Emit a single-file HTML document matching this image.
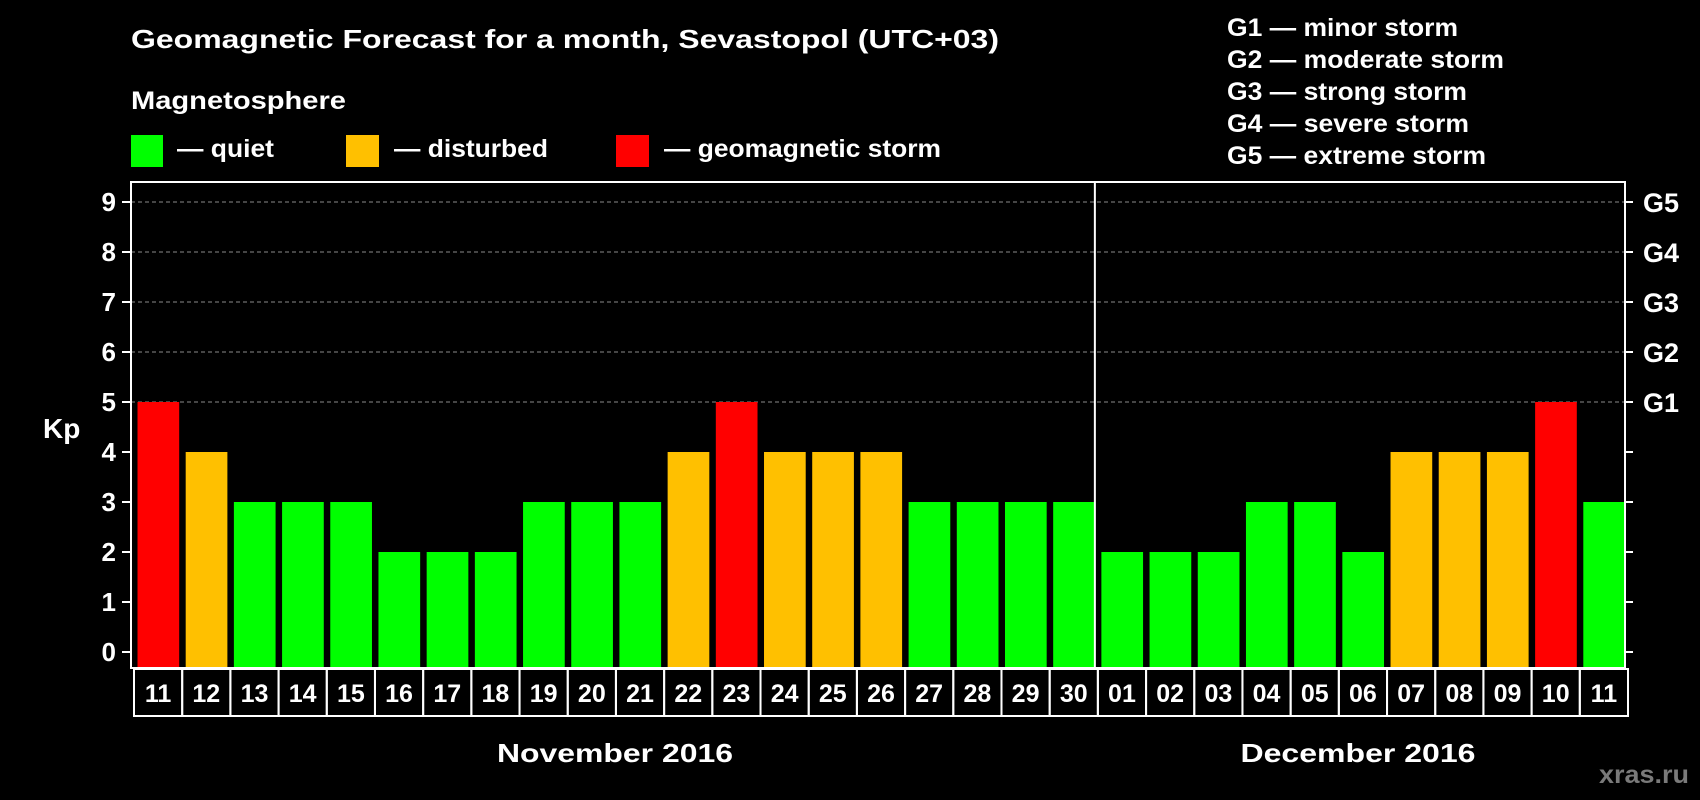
<!DOCTYPE html>
<html><head><meta charset="utf-8"><style>
html,body{margin:0;padding:0;background:#000;}
svg{display:block;}
text{font-family:"Liberation Sans",Arial,sans-serif;font-weight:bold;fill:#fff;}
</style></head>
<body>
<svg id="chart" width="1700" height="800" viewBox="0 0 1700 800" xmlns="http://www.w3.org/2000/svg">
<rect width="1700" height="800" fill="#000"/>
<text x="131" y="48" font-size="26" textLength="868" lengthAdjust="spacingAndGlyphs">Geomagnetic Forecast for a month, Sevastopol (UTC+03)</text>
<text x="131" y="109" font-size="25" textLength="215" lengthAdjust="spacingAndGlyphs">Magnetosphere</text>
<g>
<rect x="131" y="135" width="32" height="32" fill="#00ff00"/>
<text x="177" y="157" font-size="25" textLength="97" lengthAdjust="spacingAndGlyphs">— quiet</text></g>
<g>
<rect x="346" y="135" width="33" height="32" fill="#ffc000"/>
<text x="394" y="157" font-size="25" textLength="154" lengthAdjust="spacingAndGlyphs">— disturbed</text></g>
<g>
<rect x="616" y="135" width="33" height="32" fill="#ff0000"/>
<text x="664" y="157" font-size="25" textLength="277" lengthAdjust="spacingAndGlyphs">— geomagnetic storm</text></g>
<g font-size="25">
<text x="1227" y="36" textLength="231" lengthAdjust="spacingAndGlyphs">G1 — minor storm</text>
<text x="1227" y="68" textLength="277" lengthAdjust="spacingAndGlyphs">G2 — moderate storm</text>
<text x="1227" y="100" textLength="240" lengthAdjust="spacingAndGlyphs">G3 — strong storm</text>
<text x="1227" y="132" textLength="242" lengthAdjust="spacingAndGlyphs">G4 — severe storm</text>
<text x="1227" y="164" textLength="259" lengthAdjust="spacingAndGlyphs">G5 — extreme storm</text>
</g>
<g id="grid"></g><g id="bars"></g><g id="axes"></g>
<text x="43" y="438" font-size="28">Kp</text>
<text x="615" y="762" font-size="26" text-anchor="middle" textLength="236" lengthAdjust="spacingAndGlyphs">November 2016</text>
<text x="1358" y="762" font-size="26" text-anchor="middle" textLength="235" lengthAdjust="spacingAndGlyphs">December 2016</text>
<text x="1599" y="783" font-size="25" style="fill:#7a7a7a" textLength="90" lengthAdjust="spacingAndGlyphs">xras.ru</text>
</svg>
<script>
const days = ["11","12","13","14","15","16","17","18","19","20","21","22","23","24","25","26","27","28","29","30","01","02","03","04","05","06","07","08","09","10","11"];
const kpValues = [5,4,3,3,3,2,2,2,3,3,3,4,5,4,4,4,3,3,3,3,2,2,2,3,3,2,4,4,4,5,3];
const yTicks = [0,1,2,3,4,5,6,7,8,9];
const gLabels = ["G1","G2","G3","G4","G5"];
const monthSplitIndex = 20;

const NS = "http://www.w3.org/2000/svg";
const L = 131, R = 1625, T = 182, B = 668;
const slot = (R - L) / days.length;
const y = v => 652 - v * 50;
const x = i => L + i * slot;
function mk(tag, attrs, parent){ const e = document.createElementNS(NS, tag); for (const k in attrs) e.setAttribute(k, attrs[k]); parent.appendChild(e); return e; }
const grid = document.getElementById('grid'), bars = document.getElementById('bars'), axes = document.getElementById('axes');
function color(v){ return v >= 5 ? "#ff0000" : (v >= 4 ? "#ffc000" : "#00ff00"); }

yTicks.forEach(v => {
  if (v >= 5) {
    const g = mk('line', {x1:L, x2:R, y1:y(v), y2:y(v), stroke:'#8a8a8a', 'stroke-width':1, 'stroke-dasharray':'4,3'}, grid);
    
    
  }
  const t = mk('line', {x1:L-9, x2:L, y1:y(v), y2:y(v), stroke:'#fff', 'stroke-width':2}, axes);
  
  
  const t2 = mk('line', {x1:R, x2:R+8, y1:y(v), y2:y(v), stroke:'#fff', 'stroke-width':2}, axes);
  
  
  const lb = mk('text', {x:116, y:y(v)+9, 'font-size':26, 'text-anchor':'end'}, axes);
  lb.textContent = v;
  
  
  if (v >= 5) {
    const gl = mk('text', {x:1643, y:y(v)+10, 'font-size':27}, axes);
    gl.textContent = gLabels[v-5];
    
    
  }
});

kpValues.forEach((v, i) => {
  const b = mk('rect', {x:x(i)+6.5, y:y(v), width:slot-6.5, height:B - y(v), fill:color(v)}, bars);
  
  
  const c = mk('rect', {x:x(i)+3, y:B+1, width:slot, height:47, fill:'none', stroke:'#fff', 'stroke-width':2}, axes);
  
  
  const lt = mk('text', {x:x(i)+3+slot/2, y:B+34, 'font-size':25, 'text-anchor':'middle'}, axes);
  lt.textContent = days[i];
  
  
});

const f = mk('rect', {x:L, y:T, width:R-L, height:B-T, fill:'none', stroke:'#fff', 'stroke-width':2}, axes);


const d = mk('line', {x1:x(monthSplitIndex), x2:x(monthSplitIndex), y1:T, y2:B, stroke:'#fff', 'stroke-width':2}, axes);


</script>
</body></html>
